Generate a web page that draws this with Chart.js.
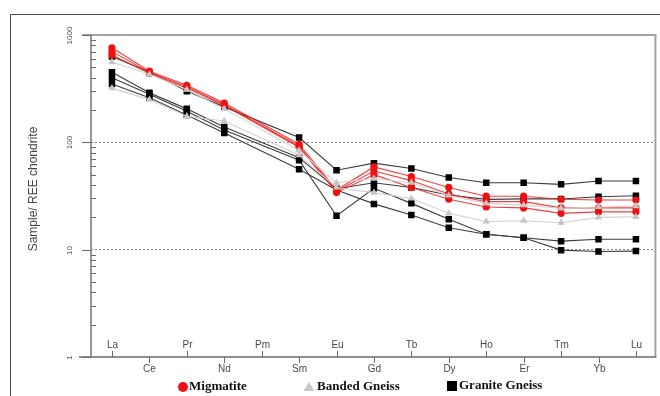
<!DOCTYPE html>
<html>
<head>
<meta charset="utf-8">
<script src="https://cdn.jsdelivr.net/npm/chart.js@4.4.1/dist/chart.umd.min.js"></script>
<style>
  html, body { margin: 0; padding: 0; background: #fff; }
  #wrap { width: 660px; height: 396px; position: relative; }
</style>
</head>
<body>
<div id="wrap"><canvas id="reeChart"></canvas></div>
<script>
// REE elements along the x axis (Pm not measured)
const elements = ['La', 'Ce', 'Pr', 'Nd', 'Pm', 'Sm', 'Eu', 'Gd', 'Tb', 'Dy', 'Ho', 'Er', 'Tm', 'Yb', 'Lu'];
const yTicks = [1, 10, 100, 1000];

// Migmatite samples
const migmatite1 = [760, 460, 340, 232, null, 96, 36, 59, 48, 38, 31.5, 31.5, 29.5, 29, 29];
const migmatite2 = [700, 450, 330, 225, null, 92, 35, 54, 44, 33, 28, 28, 24.5, 24.5, 24.5];
const migmatite3 = [650, 440, 320, 220, null, 90, 34, 50, 38, 29.5, 25, 24.5, 21.8, 22.5, 22.5];

// Banded gneiss samples
const banded1 = [560, 430, 310, 205, null, 84, 42, 46, 42, 32, 27, 26, 24.3, 25, 25.5];
const banded2 = [320, 250, 175, 158, null, 76, 38, 34, 30, 21.8, 18.3, 18.6, 17.8, 20, 20.2];

// Granite gneiss samples
const granite1 = [630, 450, 300, 214, null, 111, 55, 64, 57, 47, 42, 42, 40.6, 43.6, 43.6];
const granite2 = [450, 290, 205, 139, null, 72, 37, 42, 38, 32.3, 29.4, 29.7, 29.7, 31.1, 31.8];
const granite3 = [400, 280, 195, 130, null, 68, 20.7, 37.3, 27, 19.2, 13.9, 12.9, 12, 12.5, 12.5];
const granite4 = [350, 260, 180, 122, null, 56, 36, 26.7, 21, 16, 13.9, 12.9, 9.9, 9.6, 9.7];

function toPoints(vals) {
  const pts = [];
  vals.forEach((v, i) => { if (v !== null) pts.push({ x: i, y: v }); });
  return pts;
}

function series(vals, group) {
  const styles = {
    mig: { line: 'rgba(235,30,30,0.85)', fill: '#ee1111', shape: 'circle', r: 3.6 },
    band: { line: '#d2d2d2', fill: '#c6c6c6', shape: 'triangle', r: 4.2 },
    gran: { line: '#3c3c3c', fill: '#000000', shape: 'rect', r: 4.6 }
  };
  const s = styles[group];
  return {
    group: group,
    data: toPoints(vals),
    borderColor: s.line,
    borderWidth: 1.1,
    backgroundColor: s.fill,
    pointBackgroundColor: s.fill,
    pointBorderColor: s.fill,
    pointBorderWidth: 0,
    pointStyle: s.shape,
    pointRadius: s.r,
    pointHoverRadius: s.r,
    tension: 0
  };
}

// axes, labels and legend drawn around the plot
const decorPlugin = {
  id: 'decor',
  afterDraw(chart) {
    const { ctx, chartArea: a, scales: { x, y } } = chart;
    const line = (x1, y1, x2, y2) => { ctx.beginPath(); ctx.moveTo(x1, y1); ctx.lineTo(x2, y2); ctx.stroke(); };
    ctx.save();

    // outer frame
    ctx.strokeStyle = '#4a4a4a';
    ctx.lineWidth = 1;
    ctx.beginPath(); ctx.moveTo(10.5, 400); ctx.lineTo(10.5, 14.5); ctx.lineTo(680, 14.5); ctx.stroke();

    // top and right border of plot
    ctx.strokeStyle = '#a3a3a3';
    ctx.lineWidth = 2;
    line(82, a.top, a.right + 1, a.top);
    line(a.right, a.top, a.right, a.bottom);

    // left and bottom axis
    ctx.strokeStyle = '#6a6a6a';
    ctx.lineWidth = 1.4;
    line(a.left, a.top, a.left, a.bottom);
    line(79, a.bottom, a.right + 1, a.bottom);

    // y minor ticks (inside) and major ticks (outside)
    ctx.lineWidth = 1;
    [1, 10, 100].forEach(d => {
      for (let m = 2; m <= 9; m++) {
        const py = Math.round(y.getPixelForValue(m * d)) + 0.5;
        line(a.left, py, a.left + 5, py);
      }
    });
    ctx.font = '8px "Liberation Sans", Arial, sans-serif';
    ctx.fillStyle = '#555';
    ctx.textAlign = 'center';
    ctx.textBaseline = 'middle';
    yTicks.forEach(v => {
      const py = Math.round(y.getPixelForValue(v)) + 0.5;
      line(a.left - 9, py, a.left, py);
      ctx.save();
      ctx.translate(70, py);
      ctx.rotate(-Math.PI / 2);
      ctx.fillText(String(v), 0, 0);
      ctx.restore();
    });

    // y title
    ctx.save();
    ctx.translate(34, 189);
    ctx.rotate(-Math.PI / 2);
    ctx.font = '12px "Liberation Sans", Arial, sans-serif';
    ctx.fillStyle = '#444';
    ctx.fillText('Sample/ REE chondrite', 0, 0);
    ctx.restore();

    // x ticks, alternating above / below the axis
    ctx.font = '10px "Liberation Sans", Arial, sans-serif';
    ctx.fillStyle = '#4a4a4a';
    elements.forEach((el, i) => {
      const px = Math.round(x.getPixelForValue(i)) + 0.5;
      if (i % 2 === 0) {
        line(px, a.bottom - 6, px, a.bottom);
        ctx.fillText(el, px, a.bottom - 12);
      } else {
        line(px, a.bottom, px, a.bottom + 6);
        ctx.fillText(el, px, a.bottom + 12);
      }
    });

    // legend
    const ly = 387;
    ctx.font = 'bold 13px "Liberation Serif", "Times New Roman", serif';
    ctx.textAlign = 'left';
    ctx.fillStyle = '#ee1111';
    ctx.beginPath(); ctx.arc(183, ly, 5, 0, Math.PI * 2); ctx.fill();
    ctx.fillStyle = '#c6c6c6';
    ctx.beginPath(); ctx.moveTo(309, ly - 5); ctx.lineTo(314.5, ly + 4); ctx.lineTo(303.5, ly + 4); ctx.closePath(); ctx.fill();
    ctx.fillStyle = '#000';
    ctx.fillRect(447, ly - 6, 10, 10);
    ctx.fillStyle = '#111';
    ctx.fillText('Migmatite', 189, ly);
    ctx.fillText('Banded Gneiss', 317, ly);
    ctx.fillText('Granite Gneiss', 459, ly - 1);

    ctx.restore();
  }
};

const datasets = [
  series(banded1, 'band'),
  series(banded2, 'band'),
  series(migmatite1, 'mig'),
  series(migmatite2, 'mig'),
  series(migmatite3, 'mig'),
  series(granite1, 'gran'),
  series(granite2, 'gran'),
  series(granite3, 'gran'),
  series(granite4, 'gran')
];

const ctx = document.getElementById('reeChart').getContext('2d');
new Chart(ctx, {
  type: 'line',
  data: { datasets: datasets },
  options: {
    responsive: true,
    maintainAspectRatio: false,
    animation: false,
    layout: { padding: { left: 91, top: 35, right: 3, bottom: 39 } },
    plugins: {
      legend: { display: false },
      tooltip: { enabled: false }
    },
    scales: {
      x: {
        type: 'linear',
        min: -0.56,
        max: 14.52,
        display: false
      },
      y: {
        type: 'logarithmic',
        min: 1,
        max: 1000,
        afterFit: s => { s.width = 0; },
        ticks: { display: false },
        border: { display: false, dash: [2, 2] },
        grid: {
          drawTicks: false,
          lineWidth: 1,
          color: c => (c.tick && (c.tick.value === 10 || c.tick.value === 100)) ? '#8a8a8a' : 'rgba(0,0,0,0)'
        }
      }
    }
  },
  plugins: [decorPlugin]
});
</script>
</body>
</html>
